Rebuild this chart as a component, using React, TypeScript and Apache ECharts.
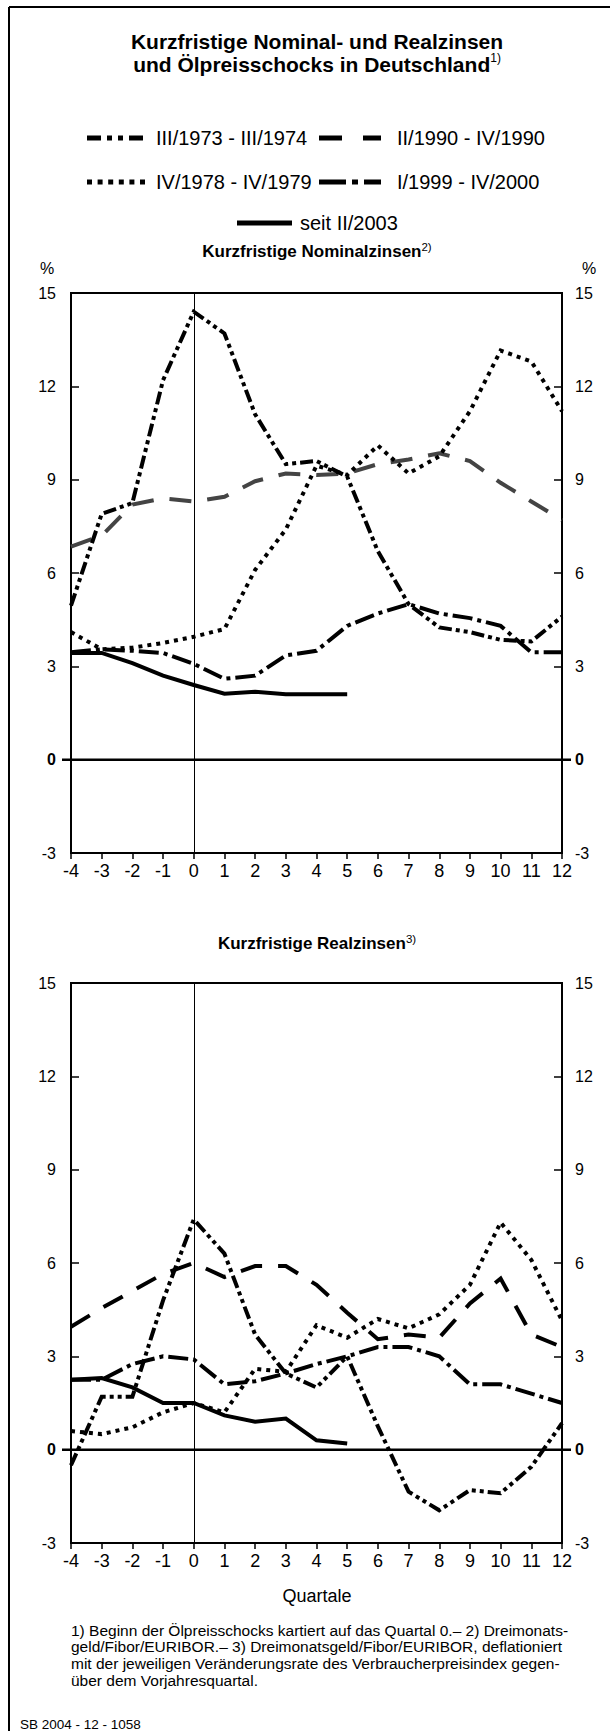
import React, { useEffect, useRef } from 'react';
import * as echarts from 'echarts';

// ---------- data ----------
const quarters = [-4, -3, -2, -1, 0, 1, 2, 3, 4, 5, 6, 7, 8, 9, 10, 11, 12];
const quarters2003 = [-4, -3, -2, -1, 0, 1, 2, 3, 4, 5];

const seriesNames = [
  'III/1973 - III/1974',
  'II/1990 - IV/1990',
  'IV/1978 - IV/1979',
  'I/1999 - IV/2000',
  'seit II/2003',
];

// Kurzfristige Nominalzinsen (%)
const nom1973 = [4.95, 7.9, 8.25, 12.2, 14.4, 13.7, 11.1, 9.5, 9.6, 9.1, 6.7, 5.0, 4.25, 4.1, 3.85, 3.8, 4.6];
const nom1990 = [6.85, 7.2, 8.2, 8.4, 8.3, 8.45, 8.95, 9.2, 9.15, 9.2, 9.5, 9.65, 9.85, 9.6, 8.9, 8.3, 7.7];
const nom1978 = [4.1, 3.55, 3.6, 3.75, 3.95, 4.2, 6.1, 7.4, 9.45, 9.15, 10.1, 9.2, 9.75, 11.2, 13.15, 12.8, 11.2];
const nom1999 = [3.45, 3.55, 3.5, 3.43, 3.08, 2.6, 2.7, 3.35, 3.5, 4.3, 4.7, 5.0, 4.7, 4.55, 4.3, 3.45, 3.45];
const nom2003 = [3.43, 3.43, 3.1, 2.7, 2.4, 2.12, 2.18, 2.1, 2.1, 2.1];

// Kurzfristige Realzinsen (%)
const real1973 = [-0.5, 1.7, 1.7, 4.8, 7.4, 6.3, 3.7, 2.45, 2.0, 3.0, 0.75, -1.35, -1.95, -1.3, -1.4, -0.55, 0.85];
const real1990 = [3.95, 4.55, 5.1, 5.65, 6.0, 5.55, 5.9, 5.9, 5.3, 4.4, 3.55, 3.7, 3.6, 4.7, 5.5, 3.7, 3.3];
const real1978 = [0.6, 0.5, 0.72, 1.2, 1.5, 1.2, 2.6, 2.5, 4.0, 3.6, 4.2, 3.9, 4.35, 5.3, 7.3, 6.1, 4.15];
const real1999 = [2.25, 2.25, 2.75, 3.0, 2.9, 2.1, 2.2, 2.45, 2.75, 3.0, 3.3, 3.3, 3.0, 2.1, 2.1, 1.8, 1.5];
const real2003 = [2.25, 2.3, 2.0, 1.5, 1.5, 1.1, 0.9, 1.0, 0.3, 0.2];

const yTicks = { min: -3, max: 15, interval: 3 };
const xTicks = { min: -4, max: 12, interval: 1 };

const titleLine1 = 'Kurzfristige Nominal- und Realzinsen';
const titleLine2 = 'und Ölpreisschocks in Deutschland';
const subtitleTop = 'Kurzfristige Nominalzinsen';
const subtitleBottom = 'Kurzfristige Realzinsen';
const xAxisName = 'Quartale';
const footnotes = [
  '1) Beginn der Ölpreisschocks kartiert auf das Quartal 0.– 2) Dreimonats-',
  'geld/Fibor/EURIBOR.– 3) Dreimonatsgeld/Fibor/EURIBOR, deflationiert',
  'mit der jeweiligen Veränderungsrate des Verbraucherpreisindex gegen-',
  'über dem Vorjahresquartal.',
];
const sourceNote = 'SB 2004 - 12 - 1058';

// ---------- styles ----------
const FONT = '"Liberation Sans", Arial, Helvetica, sans-serif';
const dashes: Record<string, number[] | string> = {
  d1973: [13, 4, 4, 4, 4, 4],
  d1990: [22, 16],
  d1978: [4, 5],
  d1999: [20, 5, 4, 5],
  d2003: 'solid',
};
const legendDashes: Record<string, number[] | string> = {
  d1973: [14, 6, 5, 6, 5, 6],
  d1990: [23, 21],
  d1978: [5, 5.6],
  d1999: [27, 6, 6, 6],
  d2003: 'solid',
};

const PLOT_LEFT = 71;
const PLOT_WIDTH = 491;
const gridsDef = [
  { top: 293, height: 560 },
  { top: 983, height: 560 },
];

export default function App() {
  const ref = useRef<HTMLDivElement>(null);

  useEffect(() => {
    document.body.style.margin = '0';
    document.body.style.overflow = 'hidden';
    const chart = echarts.init(ref.current!, null, { renderer: 'svg' });

    const grid = gridsDef.map((g) => ({
      left: PLOT_LEFT,
      width: PLOT_WIDTH,
      top: g.top,
      height: g.height,
      show: true,
      borderColor: '#000',
      borderWidth: 2,
      backgroundColor: 'transparent',
    }));

    const xAxis = gridsDef.map((_, gi) => ({
      type: 'value',
      gridIndex: gi,
      min: xTicks.min,
      max: xTicks.max,
      interval: xTicks.interval,
      position: 'bottom',
      axisLine: { show: true, onZero: false, lineStyle: { color: '#000', width: 2 } },
      axisTick: { show: true, inside: false, length: 6, lineStyle: { color: '#000', width: 1.5 } },
      axisLabel: { color: '#000', fontSize: 18, fontFamily: FONT, margin: 9, showMinLabel: true, showMaxLabel: true },
      splitLine: { show: false },
    }));

    const yLabelFormatter = (v: number) => (v === 0 ? '{b|0}' : String(v));
    const yAxis: any[] = [];
    gridsDef.forEach((_, gi) => {
      (['left', 'right'] as const).forEach((pos) => {
        yAxis.push({
          type: 'value',
          gridIndex: gi,
          min: yTicks.min,
          max: yTicks.max,
          interval: yTicks.interval,
          position: pos,
          axisLine: { show: true, onZero: false, lineStyle: { color: '#000', width: 2 } },
          axisTick: { show: true, inside: true, length: 8, lineStyle: { color: '#000', width: 1.5 } },
          axisLabel: {
            color: '#000',
            fontSize: 16,
            fontFamily: FONT,
            margin: pos === 'left' ? 15 : 13,
            formatter: yLabelFormatter,
            rich: { b: { fontWeight: 'bold', fontSize: 16, fontFamily: FONT, color: '#000' } },
          },
          splitLine: { show: false },
        });
      });
    });

    const mk = (name: string, xs: number[], ys: number[], gi: number, color: string, type: any, extra: any = {}) => ({
      type: 'line',
      name,
      xAxisIndex: gi,
      yAxisIndex: gi * 2,
      data: xs.map((q, k) => [q, ys[k]]),
      symbol: 'none',
      silent: true,
      lineStyle: { color, width: 4, type, cap: 'butt', join: 'miter' },
      itemStyle: { color },
      ...extra,
    });

    const zeroMark = {
      markLine: {
        silent: true,
        symbol: 'none',
        label: { show: false },
        lineStyle: { color: '#000', width: 1, type: 'solid' },
        data: [{ xAxis: 0 }],
      },
    };

    const sets = [
      { d73: nom1973, d90: nom1990, d78: nom1978, d99: nom1999, d03: nom2003, c90: '#444444' },
      { d73: real1973, d90: real1990, d78: real1978, d99: real1999, d03: real2003, c90: '#000000' },
    ];
    const series: any[] = [];
    sets.forEach((s, gi) => {
      series.push(mk(seriesNames[4], quarters2003, s.d03, gi, '#000', dashes.d2003, zeroMark));
      series.push(mk(seriesNames[1], quarters, s.d90, gi, s.c90, dashes.d1990));
      series.push(mk(seriesNames[3], quarters, s.d99, gi, '#000', dashes.d1999));
      series.push(mk(seriesNames[2], quarters, s.d78, gi, '#000', dashes.d1978));
      series.push(mk(seriesNames[0], quarters, s.d73, gi, '#000', dashes.d1973));
    });

    chart.setOption({
      animation: false,
      backgroundColor: '#fff',
      textStyle: { fontFamily: FONT },
      grid,
      xAxis,
      yAxis,
      series,
    });

    // ---------- graphics ----------
    const txt = (x: number, y: number, text: string, opts: any = {}) => ({
      type: 'text',
      x,
      y,
      silent: true,
      style: {
        text,
        fill: '#000',
        fontFamily: FONT,
        fontSize: 15,
        align: 'left',
        verticalAlign: 'middle',
        ...opts,
      },
    });

    const g: any[] = [];
    // frame
    g.push({ type: 'line', shape: { x1: 9, y1: 7, x2: 610, y2: 7 }, style: { stroke: '#000', lineWidth: 2 } });
    g.push({ type: 'line', shape: { x1: 9, y1: 7, x2: 9, y2: 1731 }, style: { stroke: '#000', lineWidth: 2 } });

    const CX = 317;
    // title
    g.push(txt(CX, 41, titleLine1, { align: 'center', fontSize: 21, fontWeight: 'bold' }));
    g.push(
      txt(CX, 64, `{t|${titleLine2}}{s|1)}`, {
        align: 'center',
        rich: {
          t: { fontSize: 21, fontWeight: 'bold', fontFamily: FONT, lineHeight: 24, fill: '#000' },
          s: { fontSize: 12, fontFamily: FONT, verticalAlign: 'top', fill: '#000' },
        },
      })
    );

    // legend
    const legendRows = [
      { y: 138, items: [{ x: 87, w: 59, tx: 156, key: 'd1973', name: seriesNames[0] }, { x: 319, w: 62, tx: 397, key: 'd1990', name: seriesNames[1] }] },
      { y: 182, items: [{ x: 87, w: 59, tx: 156, key: 'd1978', name: seriesNames[2] }, { x: 319, w: 62, tx: 397, key: 'd1999', name: seriesNames[3] }] },
      { y: 223, items: [{ x: 237, w: 55, tx: 300, key: 'd2003', name: seriesNames[4] }] },
    ];
    legendRows.forEach((row) => {
      row.items.forEach((it) => {
        const dash = legendDashes[it.key];
        g.push({
          type: 'line',
          shape: { x1: it.x, y1: row.y, x2: it.x + it.w, y2: row.y },
          style: { stroke: '#000', lineWidth: 5, lineDash: dash === 'solid' ? null : dash, lineCap: 'butt' },
        });
        g.push(txt(it.tx, row.y, it.name, { fontSize: 20 }));
      });
    });

    // subtitles
    const subRich = {
      t: { fontSize: 17, fontWeight: 'bold', fontFamily: FONT, lineHeight: 20, fill: '#000' },
      s: { fontSize: 11.5, fontFamily: FONT, verticalAlign: 'top', fill: '#000' },
    };
    g.push(txt(CX, 251, `{t|${subtitleTop}}{s|2)}`, { align: 'center', rich: subRich }));
    g.push(txt(CX, 943, `{t|${subtitleBottom}}{s|3)}`, { align: 'center', rich: subRich }));

    // % signs
    g.push(txt(47, 268, '%', { align: 'center', fontSize: 16 }));
    g.push(txt(589, 268, '%', { align: 'center', fontSize: 16 }));

    // x axis name
    g.push(txt(CX, 1596, xAxisName, { align: 'center', fontSize: 18 }));

    // footnotes
    footnotes.forEach((line, i) => {
      g.push(txt(71, 1630 + i * 16.8, line, { fontSize: 15.5 }));
    });
    g.push(txt(20, 1724, sourceNote, { fontSize: 13.5 }));

    // zero lines, extended beyond the plot frame
    gridsDef.forEach((_, gi) => {
      const p0 = chart.convertToPixel({ xAxisIndex: gi, yAxisIndex: gi * 2 }, [xTicks.min, 0]) as number[];
      const p1 = chart.convertToPixel({ xAxisIndex: gi, yAxisIndex: gi * 2 }, [xTicks.max, 0]) as number[];
      g.push({
        type: 'line',
        z: 50,
        shape: { x1: p0[0] - 9, y1: p0[1], x2: p1[0] + 9, y2: p1[1] },
        style: { stroke: '#000', lineWidth: 2.5 },
      });
    });

    chart.setOption({ graphic: { elements: g } });

    return () => {
      chart.dispose();
    };
  }, []);

  return <div ref={ref} style={{ width: 610, height: 1731 }} />;
}
